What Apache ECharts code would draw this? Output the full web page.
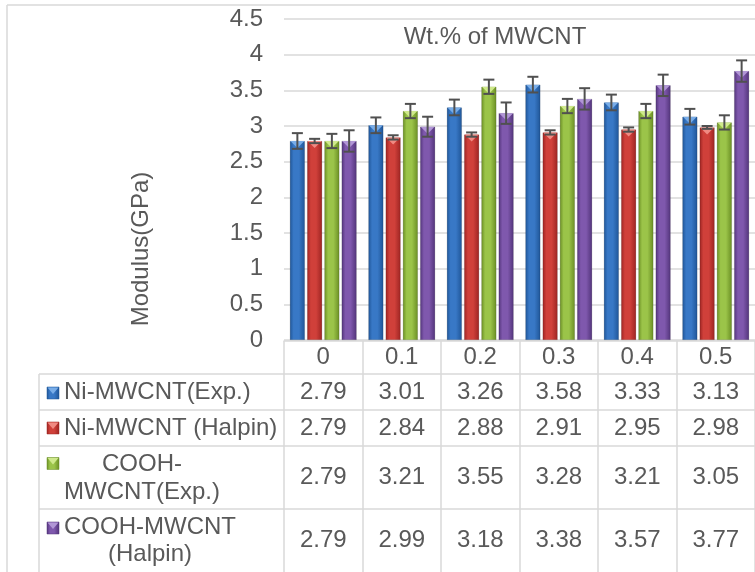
<!DOCTYPE html>
<html lang="en">
<head>
    <meta charset="utf-8">
    <title>Modulus vs Wt.% of MWCNT</title>
    <script src="https://cdn.jsdelivr.net/npm/echarts@6/dist/echarts.min.js"></script>
    <style>
        html, body { margin: 0; padding: 0; background: #fff; }
        #chart { width: 755px; height: 572px; }
    </style>
</head>
<body>
    <div id="chart"></div>
    <script type="text/javascript">
        // data
        var categories = ['0', '0.1', '0.2', '0.3', '0.4', '0.5'];
        var seriesNames = ['Ni-MWCNT(Exp.)', 'Ni-MWCNT (Halpin)', 'COOH-MWCNT(Exp.)', 'COOH-MWCNT (Halpin)'];
        var tableNames = ['Ni-MWCNT(Exp.)', 'Ni-MWCNT (Halpin)', 'COOH-\nMWCNT(Exp.)', 'COOH-MWCNT\n(Halpin)'];
        var niExp = [2.79, 3.01, 3.26, 3.58, 3.33, 3.13];
        var niHalpin = [2.79, 2.84, 2.88, 2.91, 2.95, 2.98];
        var coohExp = [2.79, 3.21, 3.55, 3.28, 3.21, 3.05];
        var coohHalpin = [2.79, 2.99, 3.18, 3.38, 3.57, 3.77];
        // error bar half lengths
        var niExpErr = [0.11, 0.11, 0.11, 0.11, 0.11, 0.11];
        var niHalpinErr = [0.03, 0.03, 0.03, 0.03, 0.03, 0.02];
        var coohExpErr = [0.10, 0.10, 0.10, 0.10, 0.10, 0.10];
        var coohHalpinErr = [0.15, 0.14, 0.15, 0.15, 0.15, 0.15];
        var yTicks = [0, 0.5, 1, 1.5, 2, 2.5, 3, 3.5, 4, 4.5];

        var values = [niExp, niHalpin, coohExp, coohHalpin];
        var errors = [niExpErr, niHalpinErr, coohExpErr, coohHalpinErr];

        //样式
        var FONT = 'Liberation Sans, Arial, sans-serif';
        var TXT = '#595959';
        var LINE = '#d9d9d9';
        var FS = 24;
        var palette = [
            { dark: '#1f5597', mid: '#3878c6', light: '#79ade8' },
            { dark: '#9c2422', mid: '#d0403a', light: '#f08a82' },
            { dark: '#6a8e24', mid: '#9bc449', light: '#cfe98c' },
            { dark: '#52347a', mid: '#7f58ad', light: '#b196d6' }
        ];
        var barW = 15, gapPx = 2.25;
        var groupW = 4 * barW + 3 * gapPx;

        function grad(c) {
            return new echarts.graphic.LinearGradient(0, 0, 1, 0, [
                { offset: 0, color: c.dark },
                { offset: 0.25, color: c.mid },
                { offset: 0.6, color: c.mid },
                { offset: 1, color: c.dark }
            ]);
        }

        // table rows under the plot (header + 4 data rows)
        var rowTop = [341, 374, 410, 446, 509];
        var rowH = [33, 36, 36, 63, 63];
        var plotBottom = 340;

        var xAxes = rowTop.map(function (top, r) {
            return {
                type: 'category',
                data: categories,
                position: 'bottom',
                offset: top - plotBottom,
                boundaryGap: true,
                axisLine: { show: true, onZero: false, lineStyle: { color: LINE, width: 1.5 } },
                axisTick: { show: true, interval: 0, length: rowH[r], lineStyle: { color: LINE, width: 1.5 } },
                axisLabel: {
                    interval: 0,
                    margin: rowH[r] / 2,
                    verticalAlign: 'middle',
                    fontSize: FS,
                    fontFamily: FONT,
                    color: TXT,
                    formatter: function (v, i) {
                        return r === 0 ? v : values[r - 1][i].toFixed(2);
                    }
                },
                splitLine: { show: false }
            };
        });

        var series = [];
        values.forEach(function (vals, s) {
            series.push({
                name: seriesNames[s],
                type: 'bar',
                xAxisIndex: 0,
                barWidth: barW,
                barGap: '15%',
                itemStyle: { color: grad(palette[s]), borderColor: 'rgba(0,0,0,0.25)', borderWidth: 0.5 },
                data: vals
            });
        });
        values.forEach(function (vals, s) {
            series.push({
                type: 'custom',
                xAxisIndex: 0,
                z: 5,
                data: vals.map(function (v, i) { return [i, v, errors[s][i]]; }),
                renderItem: function (params, api) {
                    var cat = api.value(0), val = api.value(1), err = api.value(2);
                    var top = api.coord([cat, val]);
                    var hi = api.coord([cat, val + err])[1];
                    var lo = api.coord([cat, val - err])[1];
                    var x0 = top[0] - groupW / 2 + s * (barW + gapPx);
                    var xc = x0 + barW / 2;
                    var es = { stroke: '#505050', lineWidth: 2 };
                    return {
                        type: 'group',
                        children: [
                            { type: 'polygon', shape: { points: [[x0 + 0.5, top[1]], [x0 + barW - 0.5, top[1]], [xc, top[1] + 7]] }, style: { fill: palette[s].light } },
                            { type: 'line', shape: { x1: xc, y1: hi, x2: xc, y2: lo }, style: es },
                            { type: 'line', shape: { x1: xc - 5.5, y1: hi, x2: xc + 5.5, y2: hi }, style: es },
                            { type: 'line', shape: { x1: xc - 5.5, y1: lo, x2: xc + 5.5, y2: lo }, style: es }
                        ]
                    };
                }
            });
        });

        // legend column of the data table
        var graphics = [
            { type: 'line', shape: { x1: 7, y1: 5, x2: 755, y2: 5 }, style: { stroke: LINE, lineWidth: 1.5 } },
            { type: 'line', shape: { x1: 7, y1: 5, x2: 7, y2: 572 }, style: { stroke: LINE, lineWidth: 1.5 } },
            { type: 'line', shape: { x1: 39, y1: 374, x2: 39, y2: 572 }, style: { stroke: LINE, lineWidth: 1.5 } },
            { type: 'text', x: 495, y: 37, style: { text: 'Wt.% of MWCNT', fill: TXT, font: FS + 'px ' + FONT, align: 'center', verticalAlign: 'middle' } },
            { type: 'text', x: 141, y: 249, rotation: Math.PI / 2, style: { text: 'Modulus(GPa)', fill: TXT, font: FS + 'px ' + FONT, align: 'center', verticalAlign: 'middle' } }
        ];
        var iconY = [393, 428, 463.5, 528];
        var nameX = [64, 64, 142, 150];
        var nameY = [392, 428, 478.5, 541];
        tableNames.forEach(function (name, s) {
            graphics.push({ type: 'line', shape: { x1: 39, y1: rowTop[s + 1], x2: 284, y2: rowTop[s + 1] }, style: { stroke: LINE, lineWidth: 1.5 } });
            graphics.push({ type: 'rect', shape: { x: 47, y: iconY[s] - 6, width: 12, height: 12 }, style: { fill: grad(palette[s]), stroke: palette[s].dark, lineWidth: 0.5 } });
            graphics.push({ type: 'polygon', shape: { points: [[47.5, iconY[s] - 5.5], [58.5, iconY[s] - 5.5], [53, iconY[s] + 1]] }, style: { fill: palette[s].light } });
            graphics.push({
                type: 'text', x: nameX[s], y: nameY[s],
                style: { text: name, fill: TXT, font: FS + 'px ' + FONT, lineHeight: 27.5, align: s < 2 ? 'left' : 'center', verticalAlign: 'middle' }
            });
        });

        var option = {
            backgroundColor: '#fff',
            animation: false,
            textStyle: { fontFamily: FONT },
            grid: { left: 284, top: 19, width: 480, height: 321, containLabel: false },
            xAxis: xAxes,
            yAxis: {
                type: 'value',
                min: yTicks[0],
                max: yTicks[yTicks.length - 1],
                interval: yTicks[1] - yTicks[0],
                axisLine: { show: false },
                axisTick: { show: false },
                axisLabel: { margin: 21, fontSize: FS, fontFamily: FONT, color: TXT },
                splitLine: { lineStyle: { color: LINE, width: 1.5 } }
            },
            graphic: graphics,
            series: series
        };

        var mychart = echarts.init(document.getElementById('chart'));
        mychart.setOption(option);
    </script>
</body>
</html>
